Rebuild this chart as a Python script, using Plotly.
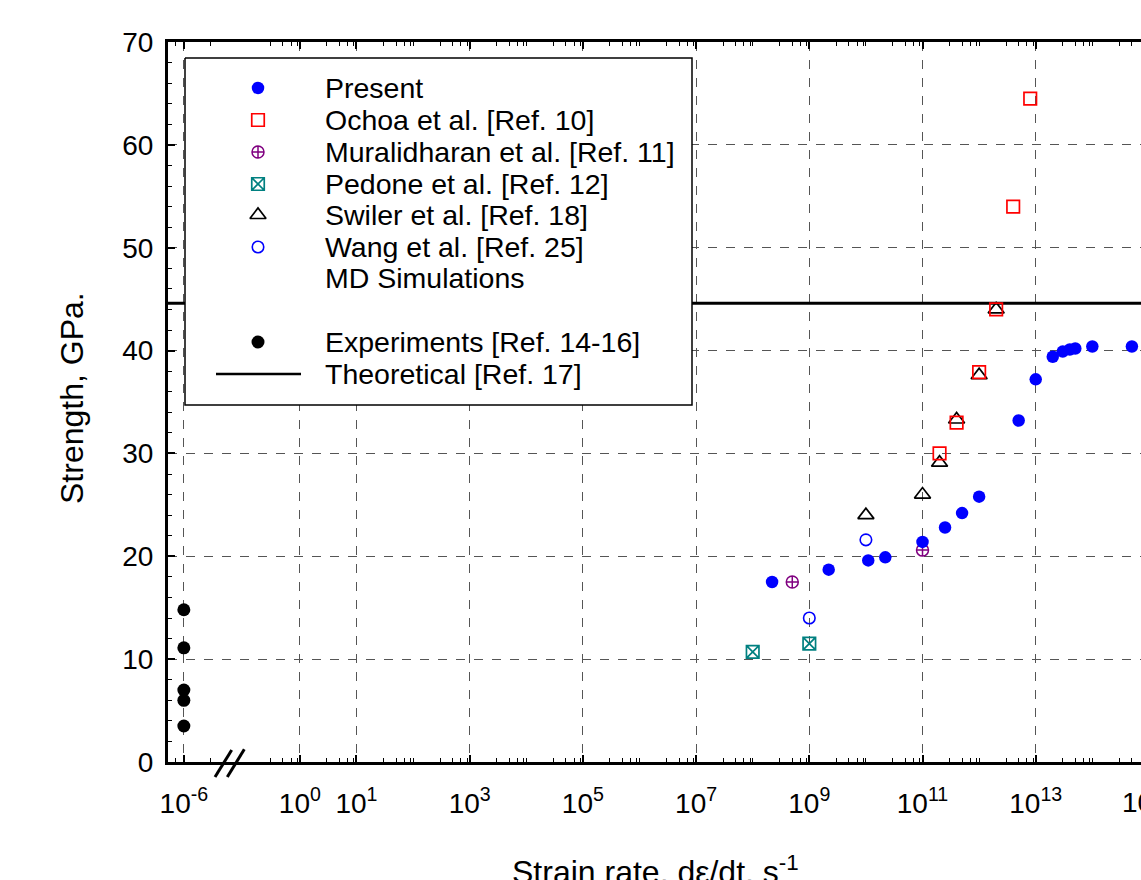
import numpy as np
import plotly.graph_objects as go

# ---------------- data ----------------
present_rate = [2.2e8, 2.2e9, 1.1e10, 2.2e10, 1e11, 2.5e11, 5e11, 1e12,
                5e12, 1e13, 2e13, 3e13, 4e13, 5e13, 1e14, 5e14]
present_strength = [17.5, 18.7, 19.6, 19.9, 21.4, 22.8, 24.2, 25.8,
                    33.2, 37.2, 39.4, 39.9, 40.1, 40.2, 40.4, 40.4]

ochoa_rate = [2e11, 4e11, 1e12, 2e12, 4e12, 8e12]
ochoa_strength = [30.0, 33.0, 37.9, 44.0, 54.0, 64.5]

mural_rate = [5e8, 1e11]
mural_strength = [17.5, 20.6]

pedone_rate = [1e8, 1e9]
pedone_strength = [10.7, 11.5]

swiler_rate = [1e10, 1e11, 2e11, 4e11, 1e12, 2e12]
swiler_strength = [24.0, 26.0, 29.1, 33.3, 37.6, 44.0]

wang_rate = [1e9, 1e10]
wang_strength = [14.0, 21.6]

exp_rate = [1e-6, 1e-6, 1e-6, 1e-6, 1e-6]
exp_strength = [14.8, 11.1, 7.0, 6.0, 3.5]

theoretical_strength = 44.6

x_tick_rates = [1e-6, 1e0, 1e1, 1e3, 1e5, 1e7, 1e9, 1e11, 1e13]
x_tick_labels = ["10<sup>-6</sup>", "10<sup>0</sup>", "10<sup>1</sup>", "10<sup>3</sup>",
                 "10<sup>5</sup>", "10<sup>7</sup>", "10<sup>9</sup>", "10<sup>11</sup>",
                 "10<sup>13</sup>"]
clipped_tick_rate = 1e15
clipped_tick_label = "10<sup>15</sup>"
y_ticks = [0, 10, 20, 30, 40, 50, 60, 70]

legend_labels = ["Present", "Ochoa et al. [Ref. 10]", "Muralidharan et al. [Ref. 11]",
                 "Pedone et al. [Ref. 12]", "Swiler et al. [Ref. 18]", "Wang et al. [Ref. 25]",
                 "MD Simulations", "", "Experiments [Ref. 14-16]", "Theoretical [Ref. 17]"]

# ---------------- broken log axis ----------------
BREAK_SHIFT = 3.95   # decades cut out between 1e-6 and 1e0


def pos(rate):
    lg = np.log10(np.asarray(rate, dtype=float))
    return np.where(lg < -3, lg + BREAK_SHIFT, lg)


X_RANGE = [-2.33, 14.86]
Y_RANGE = [0, 70]

minor_rates = [7e-7, 3e-6]
for n in range(-1, 15):
    for k in (3, 5, 7, 9):
        minor_rates.append(k * 10.0 ** n)
for n in range(2, 15, 2):
    minor_rates.append(10.0 ** n)
minor_pos = [p for p in pos(minor_rates).tolist() if X_RANGE[0] < p < X_RANGE[1]]

FONT = "Liberation Sans, Arial, sans-serif"

# figure pixel geometry
W, H = 1141, 880
ML, MR, MT, MB = 168, 0, 42, 118
PW, PH = W - ML - MR, H - MT - MB


def px(xp):
    return (xp - ML) / PW


def py(yp):
    return (H - MB - yp) / PH


styles = {
    "present": dict(symbol="circle", size=12.5, color="#0000FF", line=dict(width=0)),
    "ochoa": dict(symbol="square-open", size=12.5, color="#FF0000", line=dict(width=1.7, color="#FF0000")),
    "mural": dict(symbol="circle-cross-open", size=12, color="#800080", line=dict(width=1.5, color="#800080")),
    "pedone": dict(symbol="square-x-open", size=12.5, color="#008080", line=dict(width=1.7, color="#008080")),
    "swiler": dict(symbol="triangle-up-open", size=14, color="black", line=dict(width=1.7, color="black")),
    "wang": dict(symbol="circle-open", size=11.5, color="#0000FF", line=dict(width=1.6, color="#0000FF")),
    "exp": dict(symbol="circle", size=13, color="black", line=dict(width=0)),
}

fig = go.Figure()

# theoretical line across the whole axis
fig.add_trace(go.Scatter(x=X_RANGE, y=[theoretical_strength, theoretical_strength],
                         mode="lines", line=dict(color="black", width=3),
                         cliponaxis=True, hoverinfo="skip"))

series = [
    ("exp", exp_rate, exp_strength),
    ("pedone", pedone_rate, pedone_strength),
    ("wang", wang_rate, wang_strength),
    ("mural", mural_rate, mural_strength),
    ("swiler", swiler_rate, swiler_strength),
    ("ochoa", ochoa_rate, ochoa_strength),
    ("present", present_rate, present_strength),
]
for key, r, s in series:
    fig.add_trace(go.Scatter(x=pos(r), y=s, mode="markers", marker=styles[key],
                             cliponaxis=False))

# ---------------- legend (drawn on a pixel overlay) ----------------
box_l, box_t, box_r, box_b = 185, 58, 692, 405
fig.add_trace(go.Scatter(x=[box_l, box_r, box_r, box_l, box_l],
                         y=[box_t, box_t, box_b, box_b, box_t],
                         mode="lines", fill="toself", fillcolor="white",
                         line=dict(color="black", width=1.5),
                         xaxis="x2", yaxis="y2", hoverinfo="skip"))
row_y = [88, 120, 152, 184, 215, 247, 278, 310, 342, 374]
sym_x, txt_x = 258, 323
legend_keys = ["present", "ochoa", "mural", "pedone", "swiler", "wang", None, None, "exp", "line"]
for key, yy, lab in zip(legend_keys, row_y, legend_labels):
    if key == "line":
        fig.add_trace(go.Scatter(x=[216, 301], y=[yy, yy], mode="lines",
                                 line=dict(color="black", width=2.5),
                                 xaxis="x2", yaxis="y2", hoverinfo="skip"))
    elif key is not None:
        fig.add_trace(go.Scatter(x=[sym_x], y=[yy], mode="markers", marker=styles[key],
                                 xaxis="x2", yaxis="y2", hoverinfo="skip"))
    if lab:
        fig.add_annotation(x=txt_x, y=yy, xref="x2", yref="y2", text=lab,
                           showarrow=False, xanchor="left", yanchor="middle",
                           font=dict(size=28.5, family=FONT, color="black"))

# ---------------- axes ----------------
axis_common = dict(showline=True, linecolor="black", linewidth=3, ticks="inside",
                   tickcolor="black", tickwidth=1.5, ticklen=7, zeroline=False,
                   showgrid=True, gridcolor="#555555", griddash="dash", gridwidth=1,
                   tickfont=dict(size=28, family=FONT, color="black"))
fig.update_layout(
    width=W, height=H,
    margin=dict(l=ML, r=MR, t=MT, b=MB, autoexpand=False),
    paper_bgcolor="white", plot_bgcolor="white", showlegend=False,
    font=dict(family=FONT, size=28, color="black"),
    xaxis=dict(range=X_RANGE, tickmode="array", tickvals=pos(x_tick_rates).tolist(),
               ticktext=x_tick_labels, mirror="ticks", ticklabelstandoff=14,
               minor=dict(tickvals=minor_pos, ticks="inside", ticklen=4, tickwidth=1,
                          tickcolor="black", showgrid=False),
               **axis_common),
    yaxis=dict(range=Y_RANGE, tickmode="array", tickvals=y_ticks, ticklabelstandoff=6,
               minor=dict(dtick=2, ticks="inside", ticklen=4, tickwidth=1,
                          tickcolor="black", showgrid=False),
               **axis_common),
    xaxis2=dict(overlaying="x", anchor="y2", range=[ML, W - MR], visible=False),
    yaxis2=dict(overlaying="y", anchor="x2", range=[H - MB, MT], visible=False),
)

# clipped 10^15 label at the right edge
fig.add_annotation(x=px(ML + (pos([clipped_tick_rate])[0] - X_RANGE[0]) / (X_RANGE[1] - X_RANGE[0]) * PW),
                   y=py(800), xref="paper", yref="paper", text=clipped_tick_label,
                   showarrow=False, xanchor="center", yanchor="middle",
                   font=dict(size=28, family=FONT, color="black"))

# axis titles
fig.add_annotation(x=px(72), y=py(398), xref="paper", yref="paper",
                   text="Strength, GPa.", textangle=-90, showarrow=False,
                   xanchor="center", yanchor="middle",
                   font=dict(size=32, family=FONT, color="black"))
fig.add_annotation(x=px(655), y=py(870), xref="paper", yref="paper",
                   text="Strain rate, d\u03b5/dt, s<sup>-1</sup>", showarrow=False,
                   xanchor="center", yanchor="middle",
                   font=dict(size=32, family=FONT, color="black"))

# axis break marks
for x0, y0, x1, y1 in [(215, 777, 231.7, 750), (227.3, 777, 244.3, 749.3)]:
    fig.add_shape(type="line", xref="paper", yref="paper",
                  x0=px(x0), y0=py(y0), x1=px(x1), y1=py(y1),
                  line=dict(color="black", width=3), layer="above")

fig.write_html("out.html")
